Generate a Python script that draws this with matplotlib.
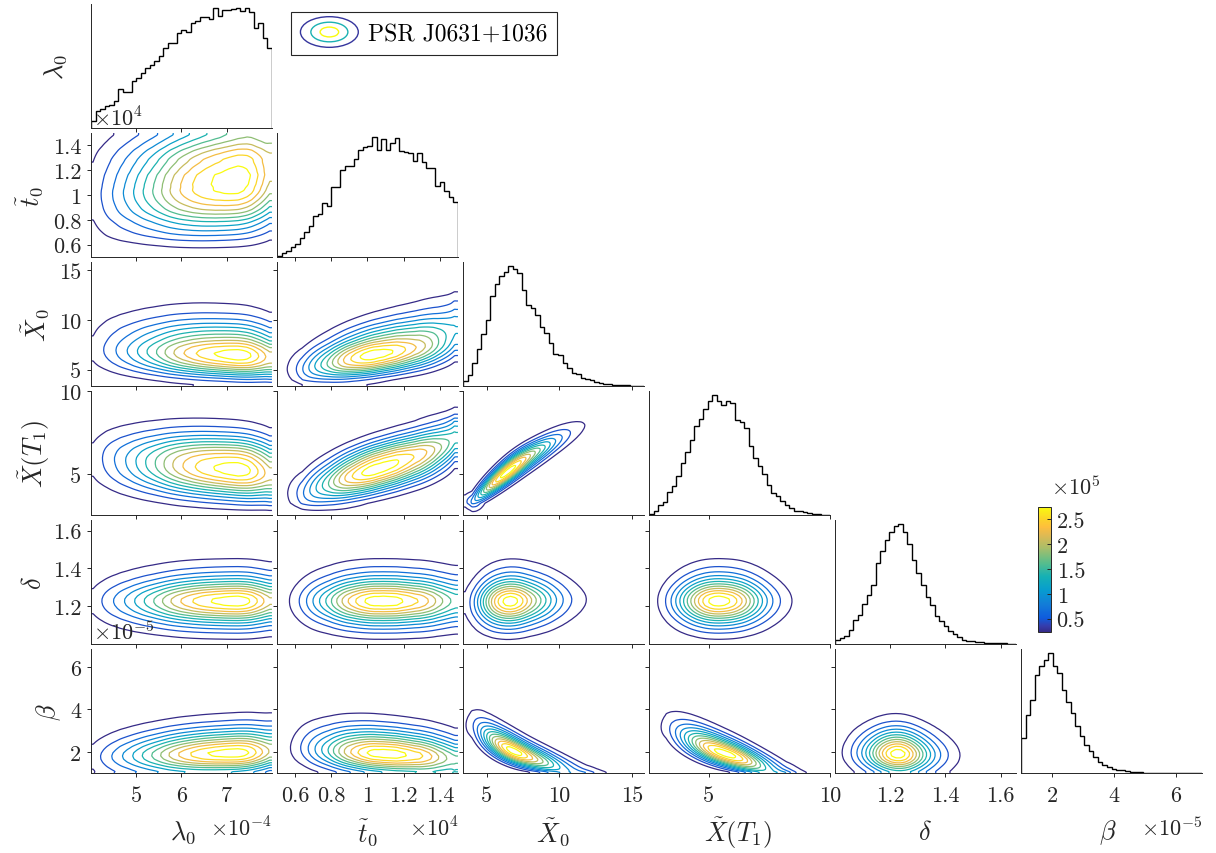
import math
import numpy as np
import matplotlib
matplotlib.use('Agg')
import matplotlib.pyplot as plt
from matplotlib.colors import LinearSegmentedColormap, Normalize
from matplotlib.cm import ScalarMappable
from matplotlib.legend_handler import HandlerBase
from matplotlib.patches import Ellipse

plt.rcParams['font.family'] = 'cmr10'
plt.rcParams['mathtext.fontset'] = 'cm'
plt.rcParams['axes.unicode_minus'] = False

W, H = 1216, 854

# parameters of the corner plot
labels = [r'$\lambda_0$', r'$\tilde{t}_0$', r'$\tilde{X}_0$', r'$\tilde{X}(T_1)$', r'$\delta$', r'$\beta$']
lims = [(4.0, 8.0), (0.5, 1.5), (3.35, 15.85), (2.55, 10.0), (1.0, 1.656), (1.0, 6.84)]
ticks = [[5, 6, 7], [0.6, 0.8, 1, 1.2, 1.4], [5, 10, 15], [5, 10], [1.2, 1.4, 1.6], [2, 4, 6]]
tick_labels = [['5', '6', '7'], ['0.6', '0.8', '1', '1.2', '1.4'], ['5', '10', '15'],
               ['5', '10'], ['1.2', '1.4', '1.6'], ['2', '4', '6']]

# marginal histograms (40 bins over each axis range, relative heights)
hist_lam0 = [0.06, 0.14, 0.16, 0.18, 0.19, 0.22, 0.32, 0.30, 0.30, 0.39, 0.41, 0.45, 0.49, 0.52,
             0.55, 0.59, 0.66, 0.70, 0.70, 0.78, 0.81, 0.79, 0.86, 0.88, 0.91, 0.91, 0.90, 0.99,
             0.92, 0.97, 0.97, 0.98, 0.99, 0.96, 0.99, 0.95, 0.82, 0.86, 0.74, 0.66]
hist_t0 = [0.01, 0.03, 0.05, 0.08, 0.11, 0.16, 0.21, 0.26, 0.34, 0.36, 0.45, 0.42, 0.58, 0.58,
           0.72, 0.76, 0.76, 0.81, 0.89, 0.91, 0.92, 1.0, 0.89, 0.98, 0.89, 0.95, 0.99, 0.88,
           0.87, 0.86, 0.80, 0.86, 0.79, 0.74, 0.74, 0.59, 0.62, 0.55, 0.50, 0.46]
hist_x0 = [0.04, 0.09, 0.19, 0.31, 0.43, 0.55, 0.75, 0.85, 0.91, 0.95, 1.0, 0.97, 0.94, 0.80,
           0.67, 0.65, 0.59, 0.49, 0.44, 0.36, 0.27, 0.26, 0.19, 0.15, 0.11, 0.10, 0.07, 0.06,
           0.05, 0.03, 0.027, 0.02, 0.014, 0.011, 0.008, 0.006, 0.005, 0.004, 0.003, 0.002]
hist_xt1 = [0.01, 0.03, 0.08, 0.11, 0.19, 0.24, 0.32, 0.43, 0.52, 0.62, 0.74, 0.80, 0.88, 0.95,
            1.0, 0.95, 0.91, 0.95, 0.93, 0.79, 0.77, 0.72, 0.57, 0.47, 0.41, 0.34, 0.25, 0.18,
            0.16, 0.12, 0.085, 0.06, 0.037, 0.03, 0.024, 0.016, 0.01, 0.005, 0.003, 0.002]
hist_delta = [0.03, 0.05, 0.07, 0.12, 0.20, 0.24, 0.33, 0.41, 0.49, 0.67, 0.77, 0.86, 0.93, 0.98,
              1.0, 0.93, 0.83, 0.70, 0.59, 0.49, 0.39, 0.32, 0.23, 0.19, 0.15, 0.11, 0.085, 0.06,
              0.037, 0.027, 0.024, 0.019, 0.016, 0.011, 0.01, 0.008, 0.005, 0.005, 0.004, 0.003]
hist_beta = [0.29, 0.48, 0.61, 0.81, 0.89, 0.94, 1.0, 0.89, 0.83, 0.69, 0.59, 0.50, 0.39, 0.31,
             0.23, 0.18, 0.13, 0.09, 0.07, 0.05, 0.035, 0.024, 0.021, 0.016, 0.011, 0.008, 0.005,
             0.004, 0.004, 0.003, 0.003, 0.002, 0.002, 0.002, 0.001, 0.001, 0.001, 0.001, 0.001,
             0.001]
hists = [hist_lam0, hist_t0, hist_x0, hist_xt1, hist_delta, hist_beta]

# pairwise correlation (row var vs column var)
rho = [[0, 0, 0, 0, 0, 0],
       [0.12, 0, 0, 0, 0, 0],
       [-0.12, 0.5, 0, 0, 0, 0],
       [-0.15, 0.65, 0.92, 0, 0, 0],
       [0.0, 0.0, 0.05, 0.0, 0, 0],
       [0.1, -0.2, -0.78, -0.74, -0.05, 0]]

# colour bar range (x1e5)
cbar_lim = (0.23, 2.75)
cbar_ticks = [0.5, 1, 1.5, 2, 2.5]
cbar_tick_labels = ['0.5', '1', '1.5', '2', '2.5']

parula_pts = [(0.2081, 0.1663, 0.5292), (0.2081, 0.2386, 0.6771), (0.0591, 0.3598, 0.8683),
              (0.0723, 0.4887, 0.8467), (0.0265, 0.6137, 0.8135), (0.0843, 0.6928, 0.7062),
              (0.3482, 0.7424, 0.5473), (0.6473, 0.7456, 0.4188), (0.8824, 0.7274, 0.3217),
              (0.9938, 0.7455, 0.2403), (0.9880, 0.8066, 0.1794), (0.9763, 0.9831, 0.0538)]
parula_pos = [0.0, 0.048, 0.111, 0.222, 0.333, 0.444, 0.556, 0.667, 0.778, 0.841, 0.889, 1.0]
parula = LinearSegmentedColormap.from_list('parula', list(zip(parula_pos, parula_pts)))

AX = '#262626'
TICK_FS = 16
LABEL_FS = 19
N_LEV = 12

z_tab = np.linspace(-2.1, 2.1, 421)
phi_tab = np.array([0.5 * (1 + math.erf(z / math.sqrt(2))) for z in z_tab])
kernel = np.array([1, 2, 3, 4, 3, 2, 1], float)
kernel /= kernel.sum()


def marginal(k, n=180):
    lo, hi = lims[k]
    g = np.linspace(lo, hi, n)
    h = np.array(hists[k])
    hs = np.convolve(np.pad(h, 3, mode='edge'), kernel, mode='valid')
    edges = np.linspace(lo, hi, len(h) + 1)
    centers = 0.5 * (edges[1:] + edges[:-1])
    f = np.interp(g, centers, hs)
    F = np.cumsum(f)
    F = (F - 0.5 * f) / F[-1]
    return g, f, np.interp(F, phi_tab, z_tab)


def joint(i, j):
    gx, fx, ax_ = marginal(j)
    gy, fy, ay = marginal(i)
    r = rho[i][j]
    A, B = np.meshgrid(ax_, ay)
    c = np.exp(-(r * r * (A ** 2 + B ** 2) - 2 * r * A * B) / (2 * (1 - r * r))) / math.sqrt(1 - r * r)
    return gx, gy, fy[:, None] * fx[None, :] * c


class RingHandler(HandlerBase):
    def create_artists(self, legend, orig_handle, xdescent, ydescent, width, height, fontsize, trans):
        cx = 0.5 * width - xdescent
        cy = 0.5 * height - ydescent
        arts = []
        for s, col in zip([1.0, 0.64, 0.32], [parula(0.03), parula(0.45), parula(1.0)]):
            arts.append(Ellipse((cx, cy), width * s, height * 1.45 * s, fill=False,
                                edgecolor=col, lw=1.0, transform=trans))
        return arts


fig, axes = plt.subplots(6, 6, figsize=(W / 100, H / 100), dpi=100,
                         gridspec_kw=dict(left=91 / W, right=1202 / W, top=1 - 5 / H,
                                          bottom=1 - 774 / H, wspace=0.028, hspace=0.04))
lev_colors = [parula(t) for t in np.linspace(0.0, 1.0, N_LEV)]
n = len(labels)
for i in range(n):
    for j in range(n):
        ax = axes[i, j]
        if j > i:
            ax.axis('off')
            continue
        for s in ['top', 'right']:
            ax.spines[s].set_visible(False)
        for s in ['left', 'bottom']:
            ax.spines[s].set_color(AX)
            ax.spines[s].set_linewidth(0.7)
        ax.tick_params(direction='out', length=3, width=0.7, color=AX, labelcolor=AX,
                       labelsize=TICK_FS)
        ax.tick_params(axis='x', pad=6)
        ax.tick_params(axis='y', pad=4)
        ax.set_xlim(lims[j])
        ax.set_xticks(ticks[j])
        if i == n - 1:
            ax.set_xticklabels(tick_labels[j])
        else:
            ax.set_xticklabels([])
        if i == j:
            h = np.array(hists[i])
            edges = np.linspace(lims[i][0], lims[i][1], len(h) + 1)
            ax.stairs(h, edges, color='k', lw=1.0, baseline=0)
            ax.set_ylim(0, h.max() * 1.03)
            ax.set_yticks([])
        else:
            gx, gy, Z = joint(i, j)
            zmax = Z.max()
            ax.contour(gx, gy, Z, levels=np.linspace(0.07, 0.95, N_LEV) * zmax,
                       colors=lev_colors, linewidths=0.9)
            ax.set_ylim(lims[i])
            ax.set_yticks(ticks[i])
            if j == 0:
                ax.set_yticklabels(tick_labels[i])
            else:
                ax.set_yticklabels([])
        if j == 0:
            ax.set_ylabel(labels[i], fontsize=LABEL_FS, color=AX, labelpad=16 if i == 0 else 5)

# x axis labels
col_x = [183, 368, 553, 738, 925, 1108]
for k in range(n):
    fig.text(col_x[k] / W, 1 - 833 / H, labels[k], fontsize=LABEL_FS, ha='center', va='center',
             color=AX)

# exponent labels
fig.text(272 / W, 1 - 828 / H, r'$\times10^{-4}$', fontsize=TICK_FS, ha='right', va='center', color=AX)
fig.text(459 / W, 1 - 828 / H, r'$\times10^{4}$', fontsize=TICK_FS, ha='right', va='center', color=AX)
fig.text(1203 / W, 1 - 828 / H, r'$\times10^{-5}$', fontsize=TICK_FS, ha='right', va='center', color=AX)
fig.text(93 / W, 1 - 118 / H, r'$\times10^{4}$', fontsize=TICK_FS, ha='left', va='center', color=AX)
fig.text(93 / W, 1 - 632 / H, r'$\times10^{-5}$', fontsize=TICK_FS, ha='left', va='center', color=AX)
fig.text(1051 / W, 1 - 487 / H, r'$\times10^{5}$', fontsize=TICK_FS, ha='left', va='center', color=AX)

# colour bar
cax = fig.add_axes([1038 / W, 1 - 633 / H, 13 / W, 125 / H])
sm = ScalarMappable(norm=Normalize(*cbar_lim), cmap=parula)
cb = fig.colorbar(sm, cax=cax, ticks=cbar_ticks)
cb.ax.set_yticklabels(cbar_tick_labels)
cb.ax.tick_params(direction='in', length=3, width=0.7, color=AX, labelcolor=AX,
                  labelsize=TICK_FS, pad=4)
cb.outline.set_edgecolor(AX)
cb.outline.set_linewidth(0.7)

# legend
proxy = Ellipse((0, 0), 1, 1)
leg = fig.legend([proxy], ['PSR J0631+1036'], handler_map={Ellipse: RingHandler()},
                 loc='upper left', bbox_to_anchor=(291 / W, 1 - 13 / H), frameon=True,
                 fancybox=False, edgecolor=AX, framealpha=1, fontsize=17, handlelength=2.45,
                 handleheight=1.0, borderpad=0.4, handletextpad=0.4, borderaxespad=0)
leg.get_frame().set_linewidth(0.8)

fig.savefig('out.png', dpi=100)
